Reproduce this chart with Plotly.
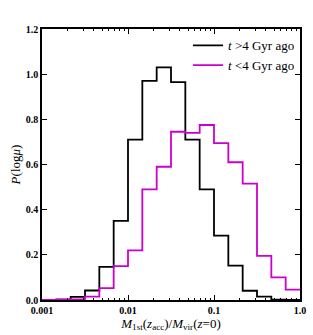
import numpy as np
import plotly.graph_objects as go

# bin edges: 1/6 dex from 1e-3 to 1
log_edges = [-3 + k / 6 for k in range(19)]
edges = [10 ** e for e in log_edges]

old_vals = [0.0, 0.002, 0.014, 0.042, 0.147, 0.35, 0.71, 0.97, 1.03, 0.965,
            0.71, 0.49, 0.285, 0.152, 0.041, 0.015, 0.002, 0.0]
young_vals = [0.0, 0.003, 0.003, 0.015, 0.053, 0.15, 0.22, 0.49, 0.59, 0.745,
              0.74, 0.775, 0.695, 0.61, 0.515, 0.195, 0.10, 0.046]

labels = ["<i>t</i> >4 Gyr ago", "<i>t</i> <4 Gyr ago"]
colors = ["black", "#cc00cc"]

fig = go.Figure()
for vals, lab, col in zip([old_vals, young_vals], labels, colors):
    xs = list(edges)
    ys = list(vals) + [vals[-1]]
    fig.add_trace(go.Scatter(x=xs, y=ys, mode="lines", line_shape="hv",
                             line=dict(color=col, width=1.8), name=lab))

font = "Liberation Serif, DejaVu Serif, serif"
minor_vals = [m * 10 ** d for d in (-3, -2, -1) for m in range(2, 10)]

fig.update_layout(
    width=313, height=335,
    margin=dict(l=42, r=7, t=29, b=35),
    plot_bgcolor="white", paper_bgcolor="white",
    font=dict(family=font, color="black"),
    showlegend=True,
    legend=dict(x=1.0, y=0.995, xanchor="right", yanchor="top",
                bgcolor="rgba(0,0,0,0)", font=dict(size=13, family=font),
                tracegroupgap=0, itemwidth=30),
)
fig.update_xaxes(
    type="log", range=[-3, 0],
    tickvals=[0.001, 0.01, 0.1, 1.0], ticktext=["<b>0.001</b>", "<b>0.01</b>", "<b>0.1</b>", "<b>1.0</b>"],
    ticks="inside", ticklen=5, tickwidth=1, tickcolor="black",
    minor=dict(ticks="inside", ticklen=2.5, tickvals=minor_vals, tickcolor="black"),
    showline=True, linecolor="black", linewidth=1.5, mirror="ticks",
    showgrid=False, zeroline=False,
    tickfont=dict(size=10, family=font),
    title=dict(text="<i>M</i><sub>1st</sub>(<i>z</i><sub>acc</sub>)/<i>M</i><sub>vir</sub>(<i>z</i>=0)",
               font=dict(size=13, family=font), standoff=1),
)
fig.update_yaxes(
    range=[0, 1.2], tickvals=[0, 0.2, 0.4, 0.6, 0.8, 1.0, 1.2],
    ticktext=["<b>0.0</b>", "<b>0.2</b>", "<b>0.4</b>", "<b>0.6</b>", "<b>0.8</b>", "<b>1.0</b>", "<b>1.2</b>"],
    ticks="inside", ticklen=5, tickwidth=1, tickcolor="black",
    showline=True, linecolor="black", linewidth=1.5, mirror="ticks",
    showgrid=False, zeroline=False,
    tickfont=dict(size=10, family=font),
    title=dict(text="<i>P</i>(log<i>μ</i>)", font=dict(size=13, family=font), standoff=2),
)

fig.write_html("out.html", config={"displayModeBar": False},
               post_script="document.body.style.margin='0';")
